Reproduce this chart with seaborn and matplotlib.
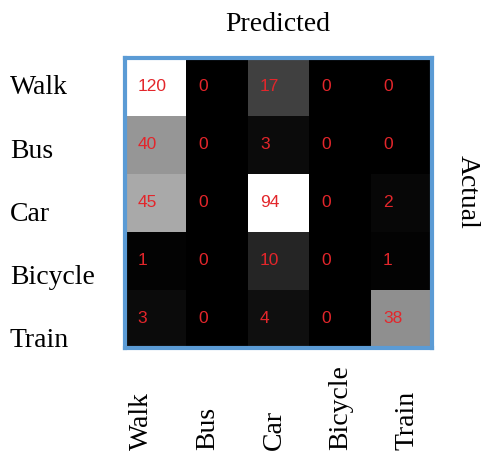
import numpy as np
import pandas as pd
import matplotlib
matplotlib.use("Agg")
import matplotlib.pyplot as plt
import matplotlib.transforms as mtransforms
import seaborn as sns

classes = ["Walk", "Bus", "Car", "Bicycle", "Train"]
walk = [120, 0, 17, 0, 0]
bus = [40, 0, 3, 0, 0]
car = [45, 0, 94, 0, 2]
bicycle = [1, 0, 10, 0, 1]
train = [3, 0, 4, 0, 38]

cm = pd.DataFrame([walk, bus, car, bicycle, train], index=classes, columns=classes)

fig = plt.figure(figsize=(4.86, 4.54), dpi=100)
ax = fig.add_axes([0.257, 0.234, 0.632, 0.639])

sns.heatmap(cm, ax=ax, cmap="gray", vmin=0, vmax=68, cbar=False,
            annot=True, fmt="d",
            annot_kws={"color": "#e3262b", "fontsize": 12.5, "family": "Liberation Sans"})

# left-align the counts inside each cell
for t in ax.texts:
    x, y = t.get_position()
    t.set_position((x - 0.3, y))
    t.set_ha("left")

for s in ax.spines.values():
    s.set_visible(True)
    s.set_color("#5b9bd5")
    s.set_linewidth(3)

ax.set_xticks([])
ax.set_yticks([])
ax.set_xlabel("")
ax.set_ylabel("")

serif = "Liberation Serif"
# class names sit on a slightly wider spacing than the grid rows/columns
ytrans = mtransforms.blended_transform_factory(fig.transFigure, ax.transData)
for i, name in enumerate(classes):
    ax.text(0.02, 0.52 + i * 1.09, name, transform=ytrans, ha="left", va="center",
            fontsize=20, family=serif, clip_on=False)

xtrans = mtransforms.blended_transform_factory(ax.transData, fig.transFigure)
for j, name in enumerate(classes):
    ax.text(0.27 + j * 1.08, 0.008, name, transform=xtrans, ha="center", va="bottom",
            rotation=90, fontsize=20, family=serif, clip_on=False)

fig.text(0.572, 0.945, "Predicted", ha="center", va="center", fontsize=20, family=serif)
fig.text(0.962, 0.577, "Actual", ha="center", va="center", rotation=270,
         fontsize=20, family=serif)

fig.savefig("out.png", dpi=100)
